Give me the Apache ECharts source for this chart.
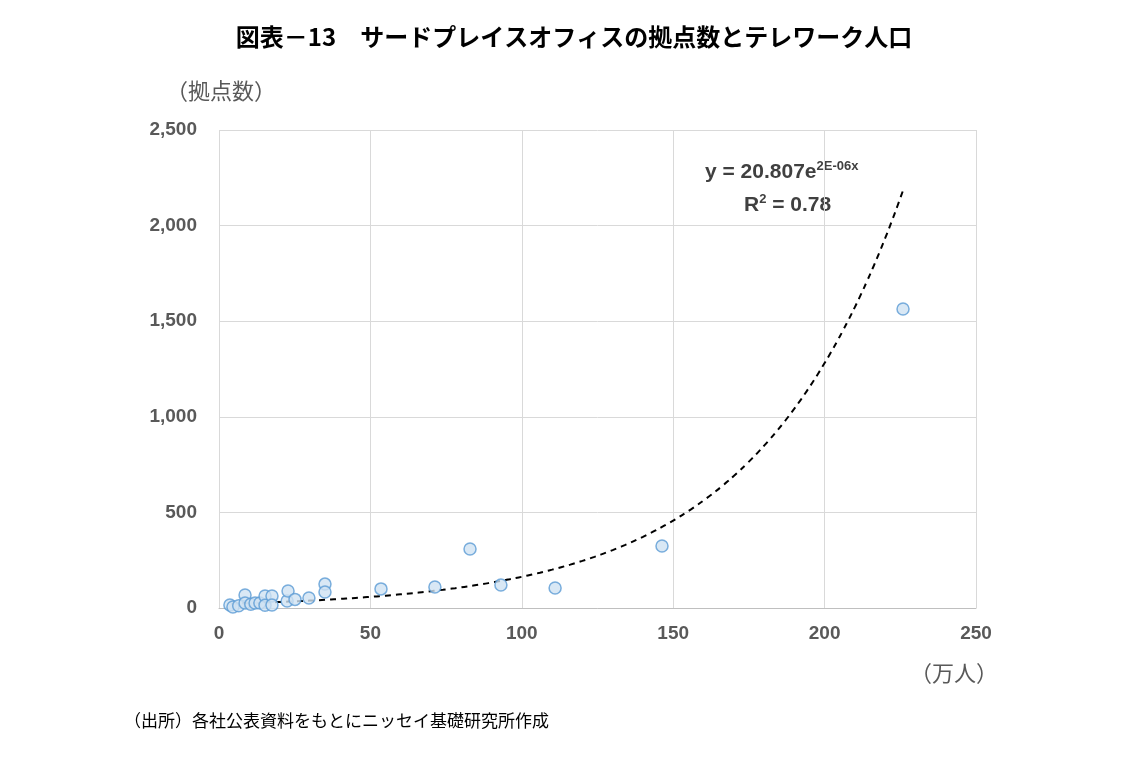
<!DOCTYPE html>
<html><head><meta charset="utf-8">
<script src="https://cdn.jsdelivr.net/npm/echarts@6/dist/echarts.min.js"></script>
<style>html,body{margin:0;padding:0;background:#fff}#c{width:1148px;height:767px}</style>
</head><body><div id="c"></div>
<script>
const xValues = [3.6,4.6,6.5,8.6,8.6,10.5,11.9,13.5,15.2,15.2,17.5,17.5,22.5,22.8,25.1,29.7,35,35,53.5,71.3,82.9,93.1,111,146.3,225.9];
const yValues = [16,5,12,68,26,20,26,26,63,14,63,16,37,89,45,52,125,84,100,110,309,120,105,324,1564];
const trendA = 20.807, trendK = 0.0206;
const xTicks = [0,50,100,150,200,250];
const points = xValues.map((x,i)=>[x,yValues[i]]);
const trend = [];
for (let x = 4; x <= 226; x += 2) trend.push([x, trendA*Math.exp(trendK*x)]);
const lbl = {color:'#595959',fontSize:19,fontWeight:'bold',fontFamily:'Liberation Sans'};
const chart = echarts.init(document.getElementById('c'));
chart.setOption({
  animation:false,
  title:{text:'図表－13　サードプレイスオフィスの拠点数とテレワーク人口',left:'center',top:20,
    textStyle:{fontFamily:'Noto Sans CJK JP',fontSize:24,fontWeight:'bold',color:'#000'}},
  grid:{left:219,right:172,top:130,bottom:159},
  xAxis:{type:'value',min:0,max:250,interval:50,
    axisLine:{lineStyle:{color:'#bfbfbf'}},axisTick:{show:false},
    splitLine:{lineStyle:{color:'#d9d9d9'}},axisLabel:Object.assign({margin:16},lbl)},
  yAxis:{type:'value',min:0,max:2500,interval:500,
    axisLine:{show:false},axisTick:{show:false},
    splitLine:{lineStyle:{color:'#d9d9d9'}},
    axisLabel:Object.assign({margin:22,formatter:v=>v.toLocaleString('en-US')},lbl)},
  graphic:[
    {type:'text',left:166,top:80,style:{text:'（拠点数）',font:'22px "Noto Sans CJK JP"',fill:'#595959'}},
    {type:'text',left:910,top:662,style:{text:'（万人）',font:'22px "Noto Sans CJK JP"',fill:'#595959'}},
    {type:'text',left:124,top:712,style:{text:'（出所）各社公表資料をもとにニッセイ基礎研究所作成',font:'17px "Noto Sans CJK JP"',fill:'#000'}},
    {type:'text',left:705,top:160,style:{rich:{a:{font:'bold 21px "Liberation Sans"',fill:'#404040'},s:{font:'bold 13px "Liberation Sans"',fill:'#404040',padding:[0,0,12,0]}},text:'{a|y = 20.807e}{s|2E-06x}'}},
    {type:'text',left:744,top:193,style:{rich:{a:{font:'bold 21px "Liberation Sans"',fill:'#404040'},s:{font:'bold 13px "Liberation Sans"',fill:'#404040',padding:[0,0,12,0]}},text:'{a|R}{s|2}{a| = 0.78}'}}
  ],
  series:[
    {type:'line',data:trend,showSymbol:false,smooth:true,lineStyle:{color:'#000',width:2,type:[6,5]},z:1},
    {type:'scatter',data:points,symbolSize:12,itemStyle:{color:'#cfe2f3',borderColor:'#5b9bd5',borderWidth:1.5},z:2}
  ]
});
</script></body></html>
